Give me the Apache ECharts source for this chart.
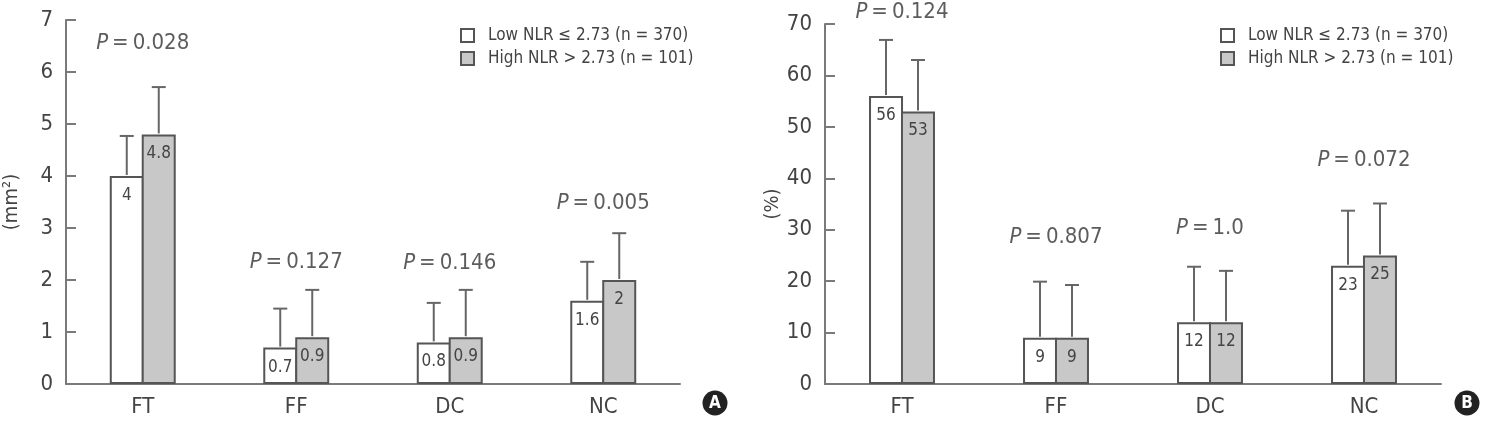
<!DOCTYPE html>
<html>
<head>
<meta charset="utf-8">
<script src="https://cdn.jsdelivr.net/npm/echarts@6/dist/echarts.min.js"></script>
<style>
  html, body {margin: 0; padding: 0; background: #fff;}
  #main {width: 1489px; height: 427px;}
</style>
</head>
<body>
<div id="main"></div>
<script>
// data
const categories = ['FT', 'FF', 'DC', 'NC'];
const legendNames = ['Low NLR ≤ 2.73 (n = 370)', 'High NLR > 2.73 (n = 101)'];

// panel A (mm²)
const lowA = [4, 0.7, 0.8, 1.6];
const highA = [4.8, 0.9, 0.9, 2];
const lowErrA = [4.77, 1.45, 1.56, 2.35];
const highErrA = [5.71, 1.81, 1.81, 2.9];
const pTextA = ['0.028', '0.127', '0.146', '0.005'];
const pAtA = [6.56, 2.35, 2.33, 3.48];

// panel B (%)
const lowB = [56, 9, 12, 23];
const highB = [53, 9, 12, 25];
const lowErrB = [66.9, 19.9, 22.8, 33.7];
const highErrB = [63.0, 19.25, 22.0, 35.1];
const pTextB = ['0.124', '0.807', '1.0', '0.072'];
const pAtB = [72.3, 28.6, 30.3, 43.5];

const FONT = "'Liberation Sans Narrow', 'DejaVu Sans Condensed', 'Roboto', sans-serif";
const AXIS_COLOR = '#7a7a7a';
const BAR_W = 34;

const mychart = echarts.init(document.getElementById('main'));

function barSeries(name, idx, vals, fill) {
    return {
        name: name,
        type: 'bar',
        xAxisIndex: idx,
        yAxisIndex: idx,
        barWidth: BAR_W,
        barGap: '-6%',
        data: vals,
        itemStyle: {color: fill, borderColor: '#555', borderWidth: 2},
        label: {
            show: true,
            position: 'insideTop',
            distance: 11,
            fontSize: 17,
            color: '#444',
            fontFamily: FONT
        }
    };
}

// vertical whisker + cap above a bar (side -1 = left bar, +1 = right bar)
function errSeries(idx, vals, errs, side) {
    return {
        type: 'custom',
        xAxisIndex: idx,
        yAxisIndex: idx,
        data: vals.map((v, i) => [i, v, errs[i]]),
        encode: {x: 0, y: [1, 2]},
        z: 3,
        renderItem: function (params, api) {
            const base = api.coord([api.value(0), api.value(1)]);
            const top = api.coord([api.value(0), api.value(2)]);
            const x = base[0] + side * (BAR_W / 2 - 1);
            const st = {stroke: '#666', lineWidth: 2};
            return {
                type: 'group',
                children: [
                    {type: 'line', shape: {x1: x, y1: base[1] - 1, x2: x, y2: top[1]}, style: st},
                    {type: 'line', shape: {x1: x - 7, y1: top[1], x2: x + 7, y2: top[1]}, style: st}
                ]
            };
        }
    };
}

// P value text above each category group
function pSeries(idx, texts, at) {
    return {
        type: 'scatter',
        xAxisIndex: idx,
        yAxisIndex: idx,
        symbolSize: 1,
        clip: false,
        silent: true,
        itemStyle: {color: 'rgba(0,0,0,0)'},
        data: at.map((y, i) => [i, y, texts[i]]),
        label: {
            show: true,
            position: 'inside',
            formatter: p => '{i|P}\u2009=\u2009' + p.data[2],
            fontSize: 22,
            color: '#333',
            textBorderWidth: 0,
            fontFamily: FONT,
            rich: {i: {fontStyle: 'italic', fontSize: 22, color: '#333', fontFamily: FONT}}
        }
    };
}

function xAxis(idx) {
    return {
        type: 'category',
        gridIndex: idx,
        data: categories,
        axisLine: {lineStyle: {color: AXIS_COLOR, width: 2}},
        axisTick: {inside: true, length: 8, lineStyle: {color: AXIS_COLOR, width: 2}},
        axisLabel: {fontSize: 22, color: '#444', margin: 12, fontFamily: FONT}
    };
}

function yAxis(idx, max, step, name, gap) {
    return {
        type: 'value',
        gridIndex: idx,
        min: 0,
        max: max,
        interval: step,
        name: name,
        nameLocation: 'middle',
        nameGap: gap,
        nameTextStyle: {fontSize: 20, color: '#444', fontFamily: FONT},
        axisLine: {show: true, lineStyle: {color: AXIS_COLOR, width: 2}},
        axisTick: {show: true, inside: true, length: 10, lineStyle: {color: AXIS_COLOR, width: 2}},
        axisLabel: {fontSize: 22, color: '#444', margin: 13, fontFamily: FONT},
        splitLine: {show: false}
    };
}

function legend(left) {
    return {
        left: left,
        top: 22,
        orient: 'vertical',
        icon: 'rect',
        itemWidth: 13,
        itemHeight: 13,
        itemGap: 6,
        data: legendNames,
        textStyle: {fontSize: 17, color: '#444', fontFamily: FONT, padding: [0, 0, 0, 9]}
    };
}

function badge(cx, cy, letter) {
    return [
        {type: 'circle', shape: {cx: cx, cy: cy, r: 12.5}, style: {fill: '#222'}},
        {
            type: 'text', x: cx, y: cy + 1,
            style: {
                text: letter, fill: '#fff', font: 'bold 17px ' + FONT,
                align: 'center', verticalAlign: 'middle',
                textAlign: 'center', textVerticalAlign: 'middle'
            }
        }
    ];
}

const option = {
    animation: false,
    textStyle: {fontFamily: FONT},
    grid: [
        {left: 66, top: 20, width: 614, height: 364},
        {left: 825, top: 24, width: 616, height: 360}
    ],
    legend: [legend(455), legend(1215)],
    xAxis: [xAxis(0), xAxis(1)],
    yAxis: [yAxis(0, 7, 1, '(mm²)', 44), yAxis(1, 70, 10, '(%)', 42)],
    series: [
        barSeries(legendNames[0], 0, lowA, '#ffffff'),
        barSeries(legendNames[1], 0, highA, '#c8c8c8'),
        errSeries(0, lowA, lowErrA, -1),
        errSeries(0, highA, highErrA, 1),
        pSeries(0, pTextA, pAtA),
        barSeries(legendNames[0], 1, lowB, '#ffffff'),
        barSeries(legendNames[1], 1, highB, '#c8c8c8'),
        errSeries(1, lowB, lowErrB, -1),
        errSeries(1, highB, highErrB, 1),
        pSeries(1, pTextB, pAtB)
    ],
    graphic: [].concat(badge(715, 403, 'A'), badge(1467, 403, 'B'))
};

mychart.setOption(option);
</script>
</body>
</html>
